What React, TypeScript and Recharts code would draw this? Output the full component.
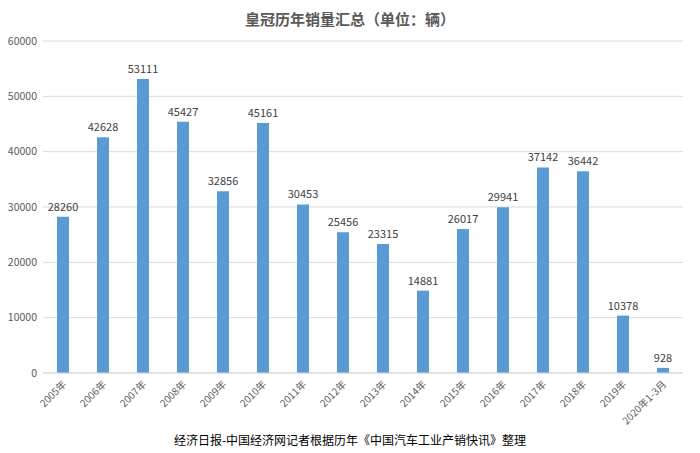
import { BarChart, Bar, XAxis, YAxis, CartesianGrid, LabelList } from "recharts";

const years = [
  "2005年", "2006年", "2007年", "2008年", "2009年", "2010年", "2011年", "2012年",
  "2013年", "2014年", "2015年", "2016年", "2017年", "2018年", "2019年", "2020年1-3月",
];
const sales = [
  28260, 42628, 53111, 45427, 32856, 45161, 30453, 25456,
  23315, 14881, 26017, 29941, 37142, 36442, 10378, 928,
];
const yTicks = [0, 10000, 20000, 30000, 40000, 50000, 60000];

const data = years.map((year, i) => ({ year, sales: sales[i] }));

const FONT = "'Noto Sans CJK SC', 'DejaVu Sans', sans-serif";

function YearTick(props: any) {
  const { x, y, payload } = props;
  return (
    <g transform={`translate(${x + 4},${y + 4})`}>
      <text
        x={0}
        y={0}
        textAnchor="end"
        transform="rotate(-45)"
        fontSize={10}
        fill="#595959"
        fontFamily={FONT}
      >
        {payload.value}
      </text>
    </g>
  );
}

export default function App() {
  return (
    <div style={{ position: "absolute", left: 0, top: 0, width: 700, height: 453, background: "#fff", fontFamily: FONT }}>
      <div
        style={{
          position: "absolute",
          top: 8,
          left: 0,
          width: 700,
          textAlign: "center",
          fontSize: 15,
          fontWeight: "bold",
          color: "#595959",
        }}
      >
        皇冠历年销量汇总（单位：辆）
      </div>
      <BarChart
        width={700}
        height={453}
        data={data}
        margin={{ top: 41, right: 17, left: 5, bottom: 0 }}
        barCategoryGap={14}
      >
        <CartesianGrid vertical={false} stroke="#d9d9d9" />
        <XAxis
          dataKey="year"
          height={80}
          interval={0}
          tickLine={false}
          axisLine={{ stroke: "#d9d9d9" }}
          tick={<YearTick />}
        />
        <YAxis
          width={38}
          domain={[0, 60000]}
          ticks={yTicks}
          tickLine={false}
          axisLine={false}
          tickSize={0}
          tickMargin={6}
          tick={{ fontSize: 10.5, fill: "#595959", fontFamily: FONT }}
        />
        <Bar dataKey="sales" fill="#5b9bd5" barSize={12} isAnimationActive={false}>
          <LabelList
            dataKey="sales"
            position="top"
            offset={6}
            style={{ fontSize: 11, fill: "#404040", fontFamily: FONT }}
          />
        </Bar>
      </BarChart>
      <div
        style={{
          position: "absolute",
          top: 431,
          left: 0,
          width: 700,
          textAlign: "center",
          fontSize: 12,
          color: "#000",
        }}
      >
        经济日报-中国经济网记者根据历年《中国汽车工业产销快讯》整理
      </div>
    </div>
  );
}
